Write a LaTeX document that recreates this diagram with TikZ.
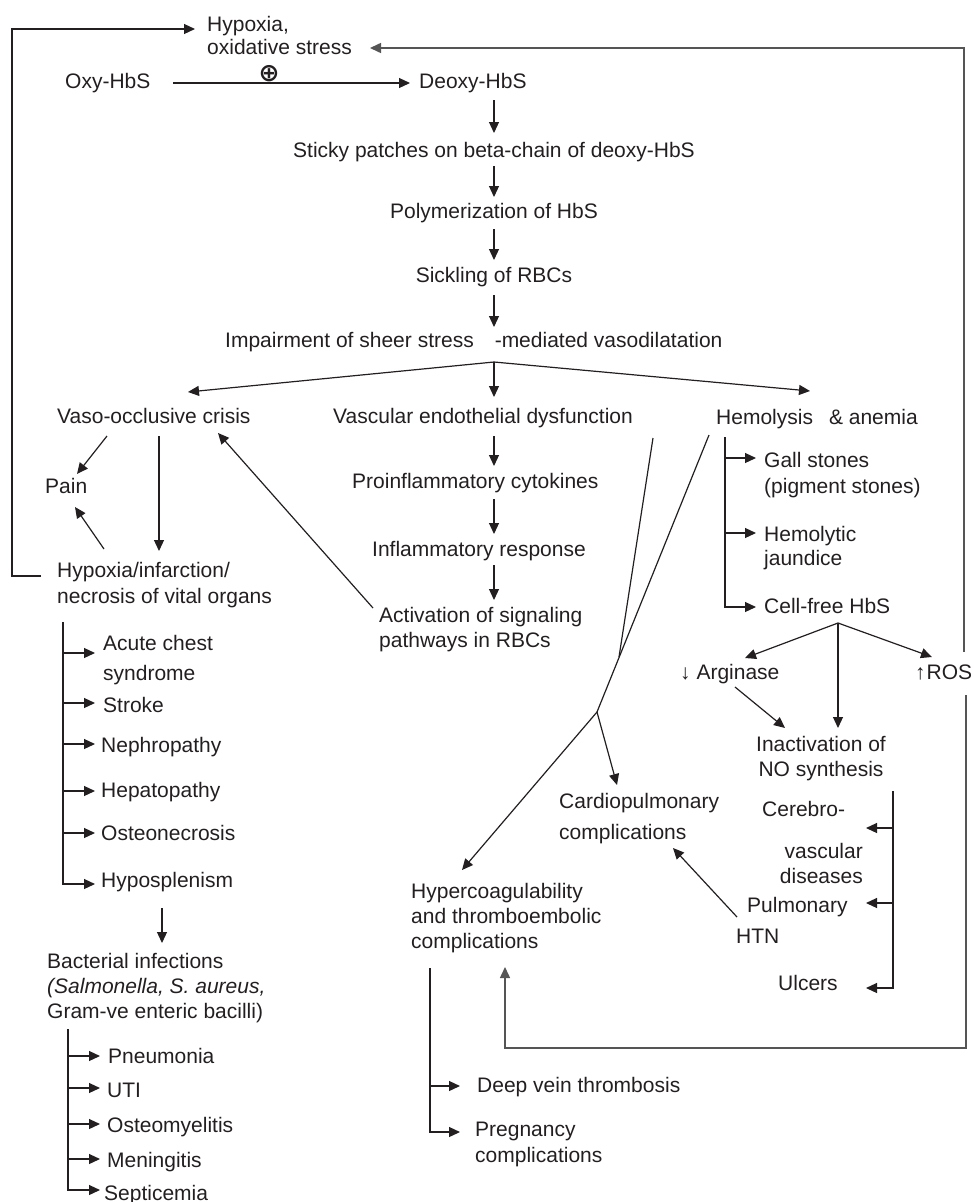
\documentclass[tikz,border=0pt]{standalone}
\usepackage{fontspec}
\setmainfont{Liberation Sans}
\newfontfamily\dejavufont{DejaVu Sans}
\usetikzlibrary{arrows.meta,calc}
\definecolor{txt}{HTML}{231F20}
\definecolor{loopc}{HTML}{555555}
\begin{document}
\begin{tikzpicture}[x=1pt,y=-1pt,
  every node/.style={inner sep=0pt, text=txt, font=\fontsize{21}{25}\selectfont},
  one/.style={anchor=base west, text height=15.3pt, text depth=4.4pt},
  multi/.style={anchor=north west, align=left},
  ln/.style={draw=txt, line width=1.2pt},
  arr/.style={ln, -{Triangle[length=11pt,width=10pt]}},
  loopline/.style={draw=loopc, line width=1.5pt}]
\useasboundingbox (0,0) rectangle (974,1202);

% ---------- nodes ----------
\node[multi] (hyp) at (207,15.7) {Hypoxia,\\[-2pt]oxidative stress};
\node[one] (oxy) at (65,88) {Oxy-HbS};
\node (plus) at (269,74) {\dejavufont\bfseries\fontsize{25}{28}\selectfont ⊕};
\node[one] (deoxy) at (419,88) {Deoxy-HbS};
\node[one,anchor=base] (sticky) at (494,157) {Sticky patches on beta-chain of deoxy-HbS};
\node[one,anchor=base] (poly) at (494,218) {Polymerization of HbS};
\node[one,anchor=base] (sick) at (494,282) {Sickling of RBCs};
\node[one] (imp) at (225,347) {Impairment of sheer stress\hspace{21pt}-mediated vasodilatation};
\node[one] (vaso) at (57,423) {Vaso-occlusive crisis};
\node[one] (vasc) at (333,423) {Vascular endothelial dysfunction};
\node[one] (hemo) at (716,424) {Hemolysis\hspace{16pt}\& anemia};
\node[one] (pain) at (45,493) {Pain};
\node[multi] (hypinf) at (57,561.7) {Hypoxia/infarction/\\[1pt]necrosis of vital organs};
\node[one] (proinf) at (352,488) {Proinflammatory cytokines};
\node[one] (inflam) at (372,556) {Inflammatory response};
\node[multi] (activ) at (379,606.7) {Activation of signaling\\pathways in RBCs};
\node[multi] (gall) at (764,451.7) {Gall stones\\[1pt](pigment stones)};
\node[multi] (hemj) at (764,525.7) {Hemolytic\\[-1pt]jaundice};
\node[one] (cellfree) at (764,613) {Cell-free HbS};
\node[one] (arg) at (680,679) {↓ Arginase};
\node[one] (ros) at (915,679) {↑\hspace{1pt}ROS};
\node[anchor=north, align=center] (inact) at (821,735.7) {Inactivation of\\NO synthesis};
\node[multi] (cardio) at (559,792.7) {Cardiopulmonary\\[6pt]complications};
\node[multi] (hyperc) at (411,882.7) {Hypercoagulability\\and thromboembolic\\complications};
\node[one] (cereb) at (762,816) {Cerebro-};
\node[anchor=north east, align=right] (vascd) at (863,842.7) {vascular\\diseases};
\node[one] (pulm) at (747,912) {Pulmonary};
\node[one] (htn) at (736,943) {HTN};
\node[one] (ulcers) at (778,990) {Ulcers};
\node[one] (dvt) at (477,1092) {Deep vein thrombosis};
\node[multi] (preg) at (475,1121.7) {Pregnancy\\[1pt]complications};
\node[multi] (acute) at (103,634.7) {Acute chest\\[5pt]syndrome};
\node[one] (stroke) at (103,712) {Stroke};
\node[one] (neph) at (101,752) {Nephropathy};
\node[one] (hepa) at (101,797) {Hepatopathy};
\node[one] (osteo) at (101,840) {Osteonecrosis};
\node[one] (hypos) at (101,887) {Hyposplenism};
\node[multi] (bact) at (47,952.7) {Bacterial infections\\\textit{(Salmonella, S. aureus,}\\Gram-ve enteric bacilli)};
\node[one] (pneu) at (108,1063) {Pneumonia};
\node[one] (uti) at (107,1097) {UTI};
\node[one] (osteom) at (107,1132) {Osteomyelitis};
\node[one] (mening) at (107,1167) {Meningitis};
\node[one] (septi) at (104,1200) {Septicemia};

% ---------- main chain ----------
\draw[arr] ($(oxy.base west)+(108,-5)$) -- ($(deoxy.base west)+(-9,-5)$);
\draw[arr] ($(deoxy.base west)+(75,12)$) -- ($(sticky.base)+(0,-24)$);
\draw[arr] ($(sticky.base)+(0,9)$) -- ($(poly.base)+(0,-21)$);
\draw[arr] ($(poly.base)+(0,11)$) -- ($(sick.base)+(0,-22)$);
\draw[arr] ($(sick.base)+(0,13)$) -- ($(imp.base west)+(269,-20)$);
\coordinate (apex) at ($(imp.base west)+(269,15)$);
\draw[arr] (apex) -- ($(vaso.base west)+(131,-31)$);
\draw[arr] (apex) -- ($(vasc.base west)+(161,-26)$);
\draw[arr] (apex) -- ($(hemo.base west)+(94,-33)$);

% ---------- vaso-occlusive branch ----------
\draw[arr] ($(vaso.base west)+(50,13)$) -- ($(pain.base west)+(32,-19)$);
\draw[arr] ($(vaso.base west)+(102,13)$) -- ($(hypinf.north west)+(102,-10.7)$);
\draw[arr] ($(hypinf.north west)+(47,-12.7)$) -- ($(pain.base west)+(30,14)$);
\draw[arr] ($(activ.north west)+(-6,1.3)$) -- ($(vaso.base west)+(161,10)$);
\draw[arr] ($(hypinf.north west)+(-16,14.3)$) -- ++(-29,0) |- ($(hyp.north west)+(-12,13.3)$);

\coordinate (lb) at ($(hypinf.north west)+(6,60.3)$);
\draw[arr] (lb) |- ($(hypos.base west)+(-6,-3)$);
\draw[arr] ($(lb |- acute.north west)+(0,18.3)$) -- ($(acute.north west)+(-8,18.3)$);
\draw[arr] ($(lb |- stroke.base west)+(0,-9)$) -- ($(stroke.base west)+(-8,-9)$);
\draw[arr] ($(lb |- neph.base west)+(0,-8)$) -- ($(neph.base west)+(-6,-8)$);
\draw[arr] ($(lb |- hepa.base west)+(0,-6)$) -- ($(hepa.base west)+(-6,-6)$);
\draw[arr] ($(lb |- osteo.base west)+(0,-7)$) -- ($(osteo.base west)+(-6,-7)$);

\draw[arr] ($(hypos.base west)+(61,21)$) -- ($(bact.north west)+(115,-9.7)$);
\coordinate (bb) at ($(bact.north west)+(21,76.3)$);
\draw[arr] (bb) |- ($(septi.base west)+(-4,-10)$);
\draw[arr] ($(bb |- pneu.base west)+(0,-7)$) -- ($(pneu.base west)+(-8,-7)$);
\draw[arr] ($(bb |- uti.base west)+(0,-9)$) -- ($(uti.base west)+(-7,-9)$);
\draw[arr] ($(bb |- osteom.base west)+(0,-8)$) -- ($(osteom.base west)+(-7,-8)$);
\draw[arr] ($(bb |- mening.base west)+(0,-8)$) -- ($(mening.base west)+(-7,-8)$);

% ---------- endothelial branch ----------
\draw[arr] ($(vasc.base west)+(161,13)$) -- ($(proinf.base west)+(142,-22)$);
\draw[arr] ($(proinf.base west)+(142,11)$) -- ($(inflam.base west)+(122,-22)$);
\draw[arr] ($(inflam.base west)+(122,9)$) -- ($(activ.north west)+(115,-6.7)$);

\coordinate (jA) at (619,657);
\coordinate (jB) at (597,712);
\draw[ln] ($(vasc.base west)+(320,15)$) -- (jA);
\draw[ln] ($(hemo.base west)+(-7,11)$) -- (jB);
\draw[arr] (jB) -- ($(hyperc.north west)+(51,-12.7)$);
\draw[arr] (jB) -- ($(cardio.north west)+(58,-7.7)$);

% ---------- hemolysis branch ----------
\coordinate (hb) at ($(hemo.base west)+(9,13)$);
\draw[arr] (hb) |- ($(cellfree.base west)+(-8,-6)$);
\draw[arr] ($(hb |- gall.north west)+(0,6.3)$) -- ($(gall.north west)+(-8,6.3)$);
\draw[arr] ($(hb |- hemj.north west)+(0,7.3)$) -- ($(hemj.north west)+(-8,7.3)$);

\coordinate (cb) at ($(cellfree.base west)+(74,10)$);
\draw[arr] (cb) -- ($(arg.base west)+(65,-21)$);
\draw[arr] (cb) -- ($(inact.north)+(17,-7.7)$);
\draw[arr] (cb) -- ($(ros.base west)+(17,-22)$);
\draw[arr] ($(arg.base west)+(55,8)$) -- ($(inact.north)+(-36,-7.7)$);

\draw[arr,loopline] ($(ros.base west)+(49,-27)$) |- ($(hyp.north west)+(163,32.3)$);
\draw[arr,loopline] ($(ros.base west)+(51,16)$) -- ++(0,353) -| ($(hyperc.north west)+(94,84.3)$);

\coordinate (nb) at ($(inact.north)+(72,55.3)$);
\draw[arr] (nb) |- ($(ulcers.base west)+(88,-2)$);
\draw[arr] ($(nb |- cereb.base west)+(0,12)$) -- ($(cereb.base west)+(104,12)$);
\draw[arr] ($(nb |- pulm.base west)+(0,-9)$) -- ($(pulm.base west)+(119,-9)$);

\draw[arr] ($(htn.base west)+(1,-26)$) -- ($(cardio.north west)+(114,55.3)$);

\coordinate (hcb) at ($(hyperc.north west)+(19,85.3)$);
\draw[arr] (hcb) |- ($(preg.north west)+(-15,10.3)$);
\draw[arr] ($(hcb |- dvt.base west)+(0,-6)$) -- ($(dvt.base west)+(-17,-6)$);
\end{tikzpicture}
\end{document}
